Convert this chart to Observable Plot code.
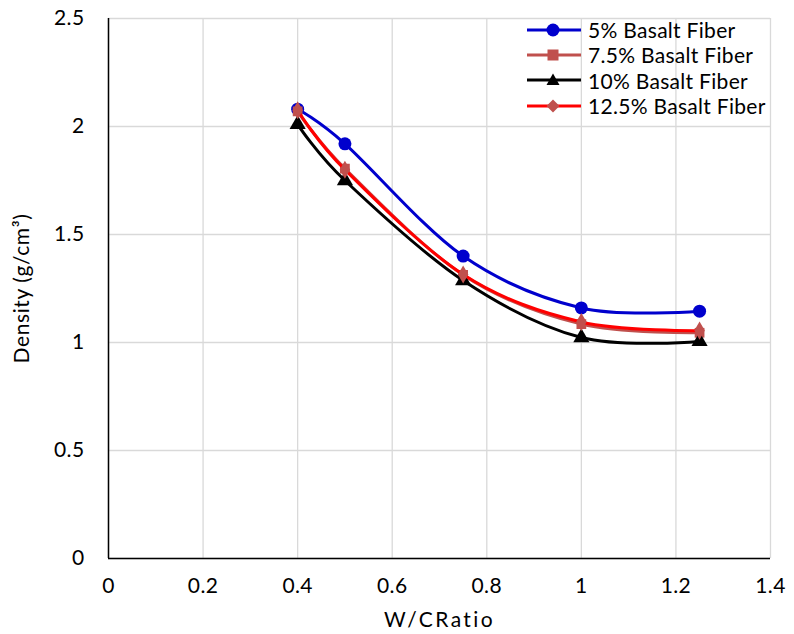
<!DOCTYPE html>
<html><head><meta charset="utf-8">
<script src="https://cdn.jsdelivr.net/npm/d3@7"></script>
<script src="https://cdn.jsdelivr.net/npm/@observablehq/plot@0.6"></script>
<style>
body{margin:0;background:#fff;font-family:Lato,"Open Sans",sans-serif;}
#wrap{position:relative;width:794px;height:634px;}
#legend{position:absolute;left:526px;top:17px;font-size:21px;color:#000;letter-spacing:0.3px;}
.row{display:flex;align-items:center;height:25.3px;}
.row svg{margin-right:6px;}
#chart svg text{letter-spacing:0.4px;}
#chart svg text.title{letter-spacing:2.4px;}
</style></head>
<body><div id="wrap"><div id="chart"></div><div id="legend"></div></div>
<script>
const wcRatio = [0.4, 0.5, 0.75, 1.0, 1.25];
const seriesNames = ["5% Basalt Fiber", "7.5% Basalt Fiber", "10% Basalt Fiber", "12.5% Basalt Fiber"];
const density5 = [2.08, 1.92, 1.40, 1.16, 1.145];
const density75 = [2.07, 1.805, 1.313, 1.085, 1.045];
const density10 = [2.01, 1.75, 1.287, 1.023, 1.005];
const density125 = [2.075, 1.80, 1.315, 1.095, 1.055];
const xTicks = [0, 0.2, 0.4, 0.6, 0.8, 1, 1.2, 1.4];
const yTicks = [0, 0.5, 1, 1.5, 2, 2.5];
const xTitle = "W/CRatio";
const yTitle = "Density (g/cm³)";

const lineColors = ["#0000CD", "#C0504D", "#000000", "#FF0000"];
const markColors = ["#0000CD", "#C0504D", "#000000", "#C0504D"];
const symbols = ["circle", "square", "triangle", "diamond"];
const radii = [6.5, 5.5, 6, 5.5];
const allValues = [density5, density75, density10, density125];

const rows = [];
allValues.forEach((vals, i) => vals.forEach((v, j) => rows.push({series: seriesNames[i], x: wcRatio[j], y: v, i})));

const curve = d3.curveCardinal.tension(0);
const font = "Lato, 'Open Sans', sans-serif";

const marks = [
  Plot.gridX(xTicks, {stroke: "#d9d9d9", strokeOpacity: 1, strokeWidth: 1.3}),
  Plot.gridY(yTicks, {stroke: "#d9d9d9", strokeOpacity: 1, strokeWidth: 1.3}),
  Plot.axisX({ticks: xTicks, tickSize: 0, tickPadding: 20, label: null, fontSize: 21, tickFormat: d => String(d)}),
  Plot.axisY({ticks: yTicks, tickSize: 0, tickPadding: 24, label: null, fontSize: 21, tickFormat: d => String(d)}),
  Plot.ruleX([0], {stroke: "#000", strokeWidth: 1.5}),
  Plot.ruleY([0], {stroke: "#000", strokeWidth: 1.5}),
  Plot.text([xTitle], {frameAnchor: "bottom", dy: 62, fontSize: 21, textAnchor: "middle", lineAnchor: "middle"}),
  Plot.text([yTitle], {frameAnchor: "left", dx: -86, rotate: -90, fontSize: 21, textAnchor: "middle", lineAnchor: "middle"})
];
seriesNames.forEach((name, i) => {
  const d = rows.filter(r => r.i === i);
  marks.push(Plot.line(d, {x: "x", y: "y", stroke: lineColors[i], strokeWidth: 3, curve}));
  marks.push(Plot.dot(d, {x: "x", y: "y", symbol: symbols[i], fill: markColors[i], stroke: "none", r: radii[i]}));
});

const chart = Plot.plot({
  width: 794, height: 634,
  marginLeft: 108, marginRight: 24, marginTop: 18, marginBottom: 76,
  style: {fontFamily: font, fontSize: "21px", color: "#000", background: "#fff"},
  x: {domain: [0, 1.4]},
  y: {domain: [0, 2.5]},
  marks
});
document.getElementById("chart").appendChild(chart);
d3.select(chart).selectAll("text").filter(function() { return this.textContent === xTitle; }).classed("title", true);
d3.select(chart).selectAll("text").filter(function() { return this.textContent === yTitle; }).style("letter-spacing", "0.6px");

const leg = document.getElementById("legend");
const symPath = {
  circle: '<circle cx="27" cy="9" r="6.5"/>',
  square: '<rect x="21.5" y="3.5" width="11" height="11"/>',
  triangle: '<path d="M27 2.5 L33.5 14 L20.5 14 Z"/>',
  diamond: '<path d="M27 2.5 L33.5 9 L27 15.5 L20.5 9 Z"/>'
};
seriesNames.forEach((name, i) => {
  const row = document.createElement("div");
  row.className = "row";
  row.innerHTML = `<svg width="56" height="18"><line x1="1" x2="55" y1="9" y2="9" stroke="${lineColors[i]}" stroke-width="3"/><g fill="${markColors[i]}">${symPath[symbols[i]]}</g></svg><span>${name}</span>`;
  leg.appendChild(row);
});
</script></body></html>
